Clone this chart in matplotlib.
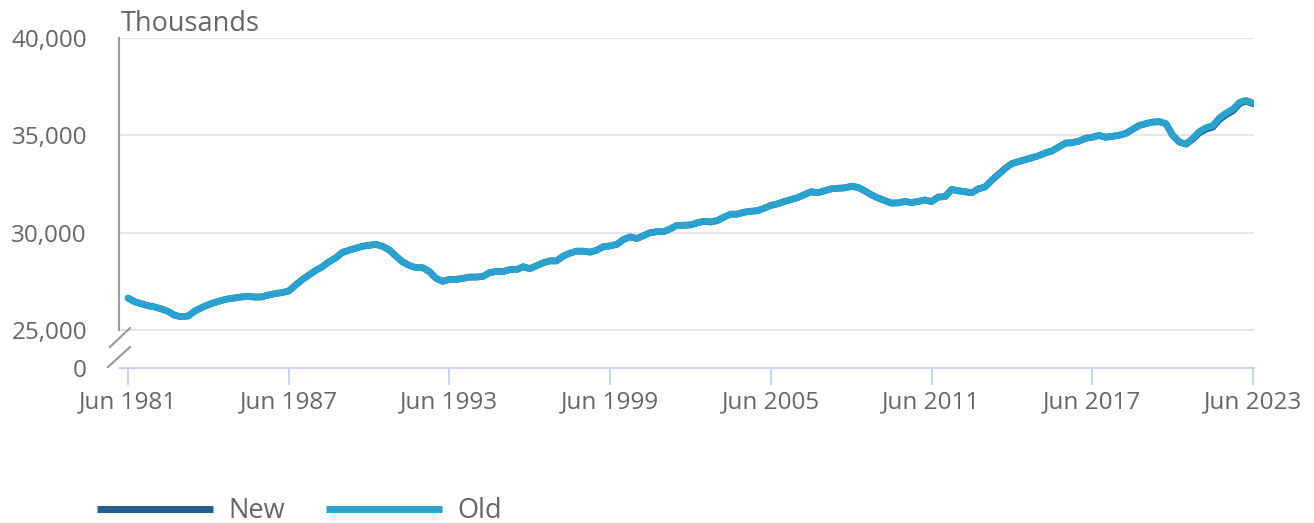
import matplotlib
matplotlib.use("Agg")
import matplotlib.pyplot as plt
import matplotlib.dates as mdates
import pandas as pd
from datetime import datetime, timedelta

plt.rcParams['font.family'] = ['Open Sans', 'DejaVu Sans']

# Quarterly series, Jun 1981 .. Jun 2023 (thousands)
old_values = [
    26640, 26450, 26350, 26250,
    26180, 26080, 25950, 25750,
    25680, 25720, 25980, 26150,
    26300, 26420, 26520, 26600,
    26650, 26700, 26720, 26690,
    26700, 26800, 26870, 26920,
    27000, 27300, 27580, 27820,
    28050, 28250, 28500, 28700,
    28980, 29100, 29200, 29300,
    29350, 29400, 29300, 29120,
    28800, 28500, 28320, 28200,
    28200, 28000, 27650, 27500,
    27600, 27600, 27650, 27720,
    27720, 27750, 27950, 28000,
    28000, 28100, 28100, 28250,
    28150, 28300, 28450, 28550,
    28550, 28800, 28950, 29050,
    29050, 29000, 29100, 29280,
    29320, 29400, 29650, 29780,
    29700, 29850, 30000, 30050,
    30050, 30200, 30380, 30380,
    30400, 30500, 30580, 30550,
    30620, 30800, 30950, 30950,
    31050, 31100, 31130, 31250,
    31400, 31480, 31600, 31700,
    31800, 31950, 32100, 32050,
    32150, 32250, 32280, 32300,
    32380, 32330, 32150, 31950,
    31780, 31650, 31520, 31530,
    31600, 31550, 31600, 31680,
    31600, 31830, 31850, 32220,
    32150, 32100, 32050, 32250,
    32350, 32700, 33000, 33300,
    33550, 33650, 33750, 33850,
    33950, 34100, 34200, 34400,
    34600, 34620, 34700, 34850,
    34900, 35000, 34900, 34950,
    35000, 35100, 35300, 35500,
    35600, 35680, 35700, 35600,
    35000, 34650, 34550, 34850,
    35200, 35400, 35500, 35900,
    36150, 36350, 36700, 36800,
    36650,
]
# revised series only differs over the last few quarters
new_tail = [34800, 35130, 35320, 35420, 35810, 36060, 36260, 36630, 36760, 36620]
new_values = old_values[:-len(new_tail)] + new_tail

dates = pd.date_range('1981-06-01', periods=len(old_values), freq='QS-MAR')
tick_years = [1981, 1987, 1993, 1999, 2005, 2011, 2017, 2023]
y_ticks = [25000, 30000, 35000, 40000]
y_labels = ['25,000', '30,000', '35,000', '40,000']

# position used for the "0" label below the axis break
y_zero_pos = 23048

text_color = '#666666'
old_color = '#2aa2cf'
new_color = '#1f5f93'

fig = plt.figure(figsize=(13.14, 5.23), dpi=100)
ax = fig.add_axes([119 / 1314, 1 - 368 / 523, 1135 / 1314, 330 / 523])

ax.plot(dates, new_values, color=new_color, linewidth=4.8, label='New',
        solid_capstyle='round', zorder=3)
ax.plot(dates, old_values, color=old_color, linewidth=4.8, label='Old',
        solid_capstyle='round', zorder=4)

ax.set_xlim(datetime(1981, 6, 1) - timedelta(days=123), datetime(2023, 6, 1) + timedelta(days=14))
ax.set_ylim(y_zero_pos, 40000)

ax.set_yticks([y_zero_pos] + y_ticks)
ax.set_yticklabels(['0'] + y_labels)
ax.tick_params(axis='y', length=0, pad=23, labelsize=17.5, labelcolor=text_color)

for v in y_ticks:
    ax.axhline(v, color='#e6e6e6', linewidth=1.5, zorder=1)

ax.set_xticks([datetime(y, 6, 1) for y in tick_years])
ax.xaxis.set_major_formatter(mdates.DateFormatter('%b %Y'))
ax.tick_params(axis='x', length=12, width=1.5, color='#ccd6eb', pad=4,
               labelsize=17.5, labelcolor=text_color)

for s in ['top', 'right']:
    ax.spines[s].set_visible(False)
ax.spines['bottom'].set_color('#ccd6eb')
ax.spines['bottom'].set_linewidth(1.5)
ax.spines['left'].set_color('#999999')
ax.spines['left'].set_linewidth(1.5)
ax.spines['left'].set_bounds(25000, 40000)

# axis break marks
ax.plot([-0.0079, 0.0097], [0.0636, 0.1212], transform=ax.transAxes,
        color='#999999', linewidth=1.5, clip_on=False)
ax.plot([-0.0097, 0.0097], [0.003, 0.0636], transform=ax.transAxes,
        color='#999999', linewidth=1.5, clip_on=False)

fig.text(121 / 1314, 1 - 24 / 523, 'Thousands', fontsize=19.5, color=text_color,
         ha='left', va='center')

leg = fig.legend(loc='center left', bbox_to_anchor=(97 / 1314, 1 - 511 / 523), ncol=2,
                 frameon=False, fontsize=19.5, labelcolor=text_color, handlelength=4.3,
                 handletextpad=0.55, columnspacing=1.5, borderpad=0, borderaxespad=0)
for line in leg.get_lines():
    line.set_linewidth(5)
    line.set_solid_capstyle('butt')

fig.savefig('out.png', dpi=100)
